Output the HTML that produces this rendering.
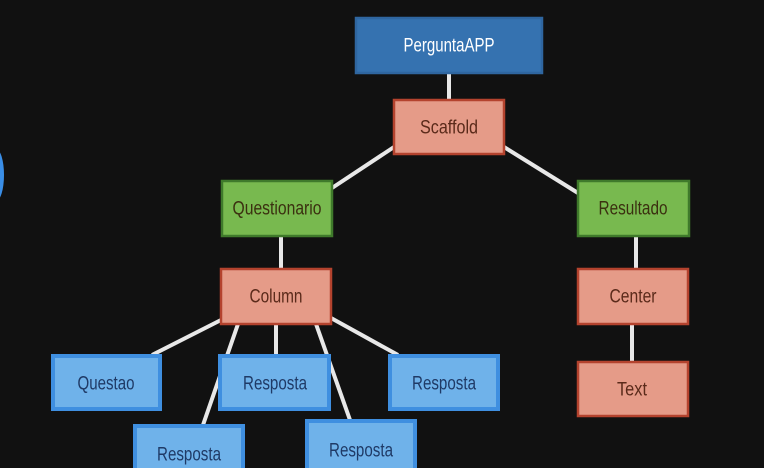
<!DOCTYPE html>
<html><head><meta charset="utf-8"><style>
html,body{margin:0;padding:0;background:#111;width:764px;height:468px;overflow:hidden}
svg text{font-family:"Liberation Sans",sans-serif;font-size:19px;text-anchor:middle;dominant-baseline:central}
</style></head><body>
<svg width="764" height="468" viewBox="0 0 764 468" xmlns="http://www.w3.org/2000/svg">
<rect width="764" height="468" fill="#111"/>
<ellipse cx="-4" cy="175" rx="8" ry="26" fill="#3a8ee6"/>
<g stroke="#e8e8e8" stroke-width="4" fill="none">
<line x1="449" y1="73" x2="449" y2="100"/>
<line x1="394" y1="147" x2="332" y2="188"/>
<line x1="504" y1="147" x2="578" y2="193"/>
<line x1="281" y1="236" x2="281" y2="269"/>
<line x1="636" y1="236" x2="636" y2="269"/>
<line x1="632" y1="324" x2="632" y2="362"/>
<line x1="221" y1="320" x2="152" y2="355"/>
<line x1="238" y1="324" x2="203" y2="425"/>
<line x1="276" y1="324" x2="276" y2="355"/>
<line x1="316" y1="324" x2="350" y2="420"/>
<line x1="331" y1="318" x2="398" y2="355"/>
</g>
<g stroke-width="2.5">
<rect x="356" y="18" width="186" height="55" fill="#3572b0" stroke="#2f66a0"/>
<rect x="394" y="100" width="110" height="54" fill="#e59b88" stroke="#b4432e"/>
<rect x="222" y="181" width="110" height="55" fill="#78b94f" stroke="#3f7a2b"/>
<rect x="578" y="181" width="111" height="55" fill="#78b94f" stroke="#3f7a2b"/>
<rect x="221" y="269" width="110" height="55" fill="#e59b88" stroke="#b4432e"/>
<rect x="578" y="269" width="110" height="55" fill="#e59b88" stroke="#b4432e"/>
<rect x="578" y="362" width="110" height="54" fill="#e59b88" stroke="#b4432e"/>
</g>
<g stroke-width="4" fill="#6fb2ea" stroke="#3f8fe0">
<rect x="53" y="356" width="107" height="53"/>
<rect x="220" y="356" width="109" height="53"/>
<rect x="390" y="356" width="108" height="53"/>
<rect x="135" y="426" width="108" height="50"/>
<rect x="307" y="421" width="108" height="55"/>
</g>
<g lengthAdjust="spacingAndGlyphs">
<text x="449" y="46" fill="#fff" textLength="91" lengthAdjust="spacingAndGlyphs">PerguntaAPP</text>
<text x="449" y="128" fill="#5a2a1a" textLength="58" lengthAdjust="spacingAndGlyphs">Scaffold</text>
<text x="277" y="209" fill="#3b3010" textLength="89" lengthAdjust="spacingAndGlyphs">Questionario</text>
<text x="633" y="209" fill="#3b3010" textLength="69" lengthAdjust="spacingAndGlyphs">Resultado</text>
<text x="276" y="297" fill="#5a2a1a" textLength="53" lengthAdjust="spacingAndGlyphs">Column</text>
<text x="633" y="297" fill="#5a2a1a" textLength="47" lengthAdjust="spacingAndGlyphs">Center</text>
<text x="632" y="390" fill="#5a2a1a" textLength="30" lengthAdjust="spacingAndGlyphs">Text</text>
<text x="106" y="384" fill="#1f3a66" textLength="57" lengthAdjust="spacingAndGlyphs">Questao</text>
<text x="275" y="384" fill="#1f3a66" textLength="64" lengthAdjust="spacingAndGlyphs">Resposta</text>
<text x="444" y="384" fill="#1f3a66" textLength="64" lengthAdjust="spacingAndGlyphs">Resposta</text>
<text x="189" y="455" fill="#1f3a66" textLength="64" lengthAdjust="spacingAndGlyphs">Resposta</text>
<text x="361" y="451" fill="#1f3a66" textLength="64" lengthAdjust="spacingAndGlyphs">Resposta</text>
</g>
</svg>
</body></html>
